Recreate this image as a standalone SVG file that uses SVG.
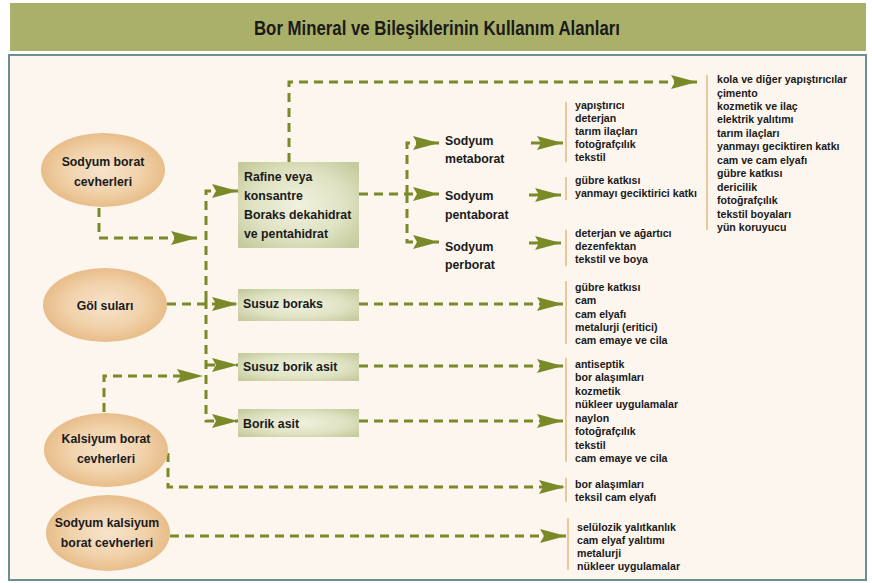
<svg xmlns="http://www.w3.org/2000/svg" width="872" height="583" viewBox="0 0 872 583">
<defs>
<radialGradient id="gEll" cx="50%" cy="50%" r="50%">
<stop offset="0" stop-color="#f7e3cb"/>
<stop offset="0.6" stop-color="#f1d2ab"/>
<stop offset="1" stop-color="#e8bd89"/>
</radialGradient>
<radialGradient id="gBox" cx="50%" cy="50%" r="65%">
<stop offset="0" stop-color="#f0f1df"/>
<stop offset="0.6" stop-color="#dfe2c2"/>
<stop offset="1" stop-color="#c6cb9e"/>
</radialGradient>
<marker id="ah" markerUnits="userSpaceOnUse" markerWidth="26" markerHeight="14" viewBox="0 0 26 14" refX="26" refY="7" orient="auto">
<path d="M0,0 L26,7 L0,14 L4,7 Z" fill="#7b8a28"/>
</marker>
</defs>
<style>
.dash{fill:none;stroke:#7b8a28;stroke-width:3;stroke-dasharray:9 6;}
.solid{fill:none;stroke:#7b8a28;stroke-width:3;}
.ell{fill:url(#gEll);}
.box{fill:url(#gBox);}
.bar{stroke:#e9c99b;stroke-width:2;}
text{font-family:"Liberation Sans",Arial,sans-serif;font-weight:bold;fill:#1a1a1a;}
.t{font-size:12.3px;}
.ce{text-anchor:middle;}
.l{font-size:10.6px;}
.title{font-size:21px;}
</style>
<rect x="0" y="0" width="872" height="583" fill="#ffffff"/>
<rect x="10" y="3" width="856" height="48" fill="#aab069"/>
<text class="title ce" x="437" y="35" textLength="366" lengthAdjust="spacingAndGlyphs">Bor Mineral ve Bileşiklerinin Kullanım Alanları</text>
<rect x="9" y="55" width="857" height="525" fill="#fcf6ef" stroke="#6a9093" stroke-width="2"/>

<g id="connectors">
<path class="dash" d="M289,162 V82 H697" marker-end="url(#ah)"/>
<path class="dash" d="M99,208 V238 H197" marker-end="url(#ah)"/>
<path class="dash" d="M206,300 V191 H238" marker-end="url(#ah)"/>
<path class="dash" d="M206,300 V421 H238" marker-end="url(#ah)"/>
<path class="dash" d="M206,365 H238" marker-end="url(#ah)"/>
<path class="dash" d="M167,304 H238" marker-end="url(#ah)"/>
<path class="dash" d="M104,412 V376 H203" marker-end="url(#ah)"/>
<path class="dash" d="M168,453 V487 H565" marker-end="url(#ah)"/>
<path class="dash" d="M170,536 H566" marker-end="url(#ah)"/>
<path class="dash" d="M359,194 H439" marker-end="url(#ah)"/>
<path class="dash" d="M407,194 V143 H439" marker-end="url(#ah)"/>
<path class="dash" d="M407,194 V242 H439" marker-end="url(#ah)"/>
<path class="dash" d="M359,304 H563" marker-end="url(#ah)"/>
<path class="dash" d="M359,366 H563" marker-end="url(#ah)"/>
<path class="dash" d="M359,421 H563" marker-end="url(#ah)"/>
<path class="solid" d="M531,143 H563" marker-end="url(#ah)"/>
<path class="solid" d="M529,195 H561" marker-end="url(#ah)"/>
<path class="solid" d="M529,243 H561" marker-end="url(#ah)"/>
</g>

<g id="n-sodyum-borat">
<ellipse class="ell" cx="103" cy="170" rx="62" ry="37"/>
<text class="t ce" x="103" y="165.5">Sodyum borat</text>
<text class="t ce" x="103" y="185.5">cevherleri</text>
</g>
<g id="n-gol-sulari">
<ellipse class="ell" cx="105" cy="305" rx="62" ry="37"/>
<text class="t ce" x="105" y="309.5">Göl suları</text>
</g>
<g id="n-kalsiyum-borat">
<ellipse class="ell" cx="106" cy="450" rx="62" ry="37"/>
<text class="t ce" x="106" y="442.5">Kalsiyum borat</text>
<text class="t ce" x="106" y="462.5">cevherleri</text>
</g>
<g id="n-sodyum-kalsiyum">
<ellipse class="ell" cx="108" cy="533" rx="62" ry="38"/>
<text class="t ce" x="107" y="526.5">Sodyum kalsiyum</text>
<text class="t ce" x="107" y="546.5">borat cevherleri</text>
</g>

<g id="n-rafine">
<rect class="box" x="238" y="162" width="121" height="86"/>
<text class="t" x="244" y="180.5">Rafine veya</text>
<text class="t" x="244" y="199.5">konsantre</text>
<text class="t" x="244" y="218.5">Boraks dekahidrat</text>
<text class="t" x="244" y="237.5">ve pentahidrat</text>
</g>
<g id="n-susuz-boraks">
<rect class="box" x="238" y="289" width="121" height="32"/>
<text class="t" x="243" y="307.5">Susuz boraks</text>
</g>
<g id="n-susuz-borik-asit">
<rect class="box" x="238" y="353" width="121" height="28"/>
<text class="t" x="243" y="370.5">Susuz borik asit</text>
</g>
<g id="n-borik-asit">
<rect class="box" x="238" y="409" width="121" height="28"/>
<text class="t" x="243" y="427.5">Borik asit</text>
</g>

<g id="n-metaborat">
<text class="t" x="445" y="144.5">Sodyum</text>
<text class="t" x="445" y="162.5">metaborat</text>
</g>
<g id="n-pentaborat">
<text class="t" x="445" y="199.5">Sodyum</text>
<text class="t" x="445" y="218.5">pentaborat</text>
</g>
<g id="n-perborat">
<text class="t" x="445" y="250.5">Sodyum</text>
<text class="t" x="445" y="268.5">perborat</text>
</g>

<g id="list-rafine">
<line class="bar" x1="707" y1="75" x2="707" y2="230"/>
<text class="l" x="717" y="83">kola ve diğer yapıştırıcılar</text>
<text class="l" x="717" y="96.5">çimento</text>
<text class="l" x="717" y="110">kozmetik ve ilaç</text>
<text class="l" x="717" y="123.3">elektrik yalıtımı</text>
<text class="l" x="717" y="136.8">tarım ilaçları</text>
<text class="l" x="717" y="150.2">yanmayı geciktiren katkı</text>
<text class="l" x="717" y="163.7">cam ve cam elyafı</text>
<text class="l" x="717" y="177.1">gübre katkısı</text>
<text class="l" x="717" y="190.6">dericilik</text>
<text class="l" x="717" y="204">fotoğrafçılık</text>
<text class="l" x="717" y="217.5">tekstil boyaları</text>
<text class="l" x="717" y="231">yün koruyucu</text>
</g>
<g id="list-metaborat">
<line class="bar" x1="566" y1="102" x2="566" y2="162"/>
<text class="l" x="575" y="109">yapıştırıcı</text>
<text class="l" x="575" y="122">deterjan</text>
<text class="l" x="575" y="135">tarım ilaçları</text>
<text class="l" x="575" y="148">fotoğrafçılık</text>
<text class="l" x="575" y="161">tekstil</text>
</g>
<g id="list-pentaborat">
<line class="bar" x1="566" y1="177" x2="566" y2="200"/>
<text class="l" x="575" y="184">gübre katkısı</text>
<text class="l" x="575" y="197">yanmayı geciktirici katkı</text>
</g>
<g id="list-perborat">
<line class="bar" x1="566" y1="230" x2="566" y2="266"/>
<text class="l" x="575" y="237">deterjan ve ağartıcı</text>
<text class="l" x="575" y="250">dezenfektan</text>
<text class="l" x="575" y="263">tekstil ve boya</text>
</g>
<g id="list-susuz-boraks">
<line class="bar" x1="566" y1="281" x2="566" y2="344"/>
<text class="l" x="575" y="291">gübre katkısı</text>
<text class="l" x="575" y="304.3">cam</text>
<text class="l" x="575" y="317.6">cam elyafı</text>
<text class="l" x="575" y="331">metalurji (eritici)</text>
<text class="l" x="575" y="344.3">cam emaye ve cila</text>
</g>
<g id="list-borik-asit">
<line class="bar" x1="566" y1="358" x2="566" y2="462"/>
<text class="l" x="575" y="368">antiseptik</text>
<text class="l" x="575" y="381.4">bor alaşımları</text>
<text class="l" x="575" y="394.9">kozmetik</text>
<text class="l" x="575" y="408.3">nükleer uygulamalar</text>
<text class="l" x="575" y="421.7">naylon</text>
<text class="l" x="575" y="435.2">fotoğrafçılık</text>
<text class="l" x="575" y="448.6">tekstil</text>
<text class="l" x="575" y="462">cam emaye ve cila</text>
</g>
<g id="list-kalsiyum">
<line class="bar" x1="566" y1="478" x2="566" y2="502"/>
<text class="l" x="575" y="488">bor alaşımları</text>
<text class="l" x="575" y="501">teksil cam elyafı</text>
</g>
<g id="list-sodyum-kalsiyum">
<line class="bar" x1="568" y1="518" x2="568" y2="570"/>
<text class="l" x="577" y="531">selülozik yalıtkanlık</text>
<text class="l" x="577" y="544">cam elyaf yalıtımı</text>
<text class="l" x="577" y="557">metalurji</text>
<text class="l" x="577" y="570">nükleer uygulamalar</text>
</g>
</svg>
